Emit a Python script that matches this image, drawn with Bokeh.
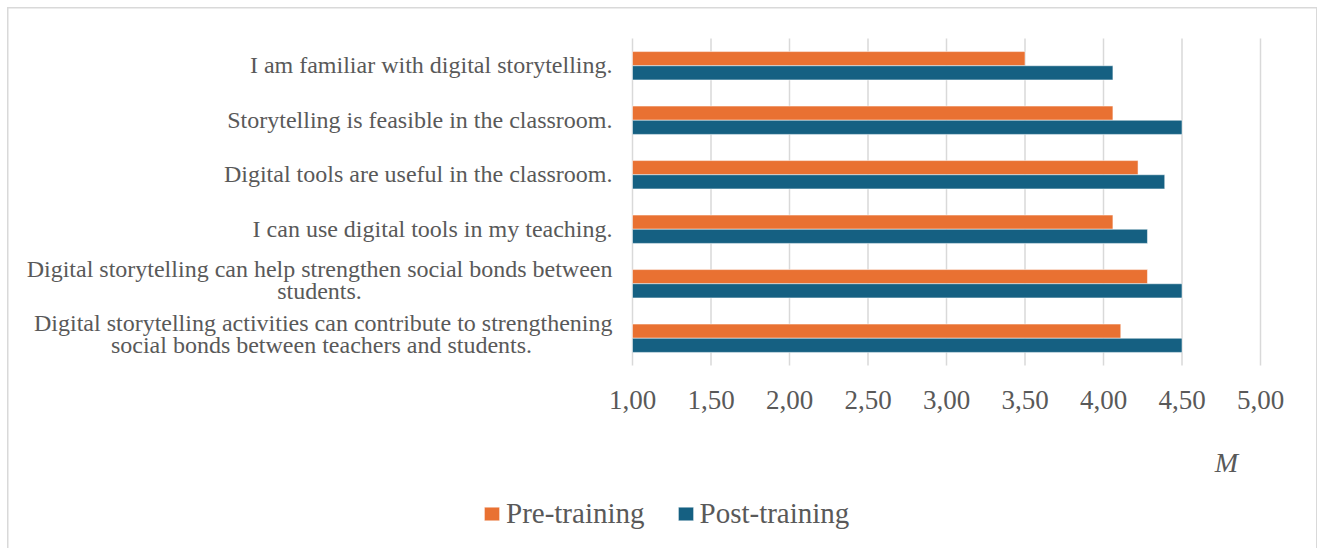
from bokeh.plotting import figure
from bokeh.models import Range1d, Label, LabelSet, Legend, LegendItem, ColumnDataSource
from bokeh.transform import dodge
from bokeh.embed import file_html
from bokeh.resources import INLINE

# ---- data ----
categories = [
    ["I am familiar with digital storytelling."],
    ["Storytelling is feasible in the classroom."],
    ["Digital tools are useful in the classroom."],
    ["I can use digital tools in my teaching."],
    ["Digital storytelling can help strengthen social bonds between", "students."],
    ["Digital storytelling activities can contribute to strengthening",
     "social bonds between teachers and students."],
]
pre_training = [3.50, 4.06, 4.22, 4.06, 4.28, 4.11]
post_training = [4.06, 4.50, 4.39, 4.28, 4.50, 4.50]
series_names = ["Pre-training", "Post-training"]
tick_values = [1.0, 1.5, 2.0, 2.5, 3.0, 3.5, 4.0, 4.5, 5.0]
tick_labels = ["1,00", "1,50", "2,00", "2,50", "3,00", "3,50", "4,00", "4,50", "5,00"]
axis_title = "M"

# ---- style / layout (canvas pixels) ----
ORANGE = "#E97132"
BLUE = "#156082"
TEXT = "#595959"
GRID = "#d9d9d9"
FONT = "Liberation Serif"

W, H = 1308, 542
PL, PR, PT, PB = 624, 1252, 30, 357   # plot-area edges inside the canvas
XMIN, XMAX = tick_values[0], tick_values[-1]
n = len(categories)

ppx = (PR - PL) / (XMAX - XMIN)
ppy = (PB - PT) / n
x_range = Range1d(XMIN - PL / ppx, XMAX + (W - PR) / ppx)
y_range = Range1d(-(H - PB) / ppy, n + PT / ppy)

rows = [n - i - 0.5 for i in range(n)]
src = ColumnDataSource(dict(y=rows, pre=pre_training, post=post_training))

p = figure(width=W, height=H, x_range=x_range, y_range=y_range,
           output_backend="svg", toolbar_location=None,
           x_axis_location=None, y_axis_location=None,
           min_border_left=0, min_border_right=0, min_border_top=0, min_border_bottom=0)
p.background_fill_color = "white"
p.border_fill_color = "white"
p.outline_line_color = None
p.grid.visible = False
p.styles = {"margin-left": "8px", "margin-top": "8px",
            "outline": "2px solid #d9d9d9", "outline-offset": "-1px",
            "clip-path": "inset(-4px -4px 2px -4px)"}

# gridlines (value axis)
p.segment(x0=tick_values, x1=tick_values, y0=[0] * len(tick_values), y1=[n] * len(tick_values),
          line_color=GRID, line_width=1.5)

r_pre = p.hbar(y=dodge("y", 0.13, range=p.y_range), left=XMIN, right="pre", height=0.26,
               source=src, fill_color=ORANGE, line_color="white", line_alpha=0.5, line_width=1)
r_post = p.hbar(y=dodge("y", -0.13, range=p.y_range), left=XMIN, right="post", height=0.26,
                source=src, fill_color=BLUE, line_color="white", line_alpha=0.5, line_width=1)

# tick labels
tick_src = ColumnDataSource(dict(x=tick_values, y=[0] * len(tick_values), text=tick_labels))
p.add_layout(LabelSet(x="x", y="y", text="text", source=tick_src, y_offset=-43.3,
                      text_align="center", text_baseline="alphabetic",
                      text_font=FONT, text_font_size="27px", text_color=TEXT))

# category labels (x offset from axis, align, text-middle offset below row centre)
line_layout = [
    [(-20, "right", -0.5)],
    [(-20, "right", -0.5)],
    [(-20, "right", -0.5)],
    [(-20, "right", -0.5)],
    [(-20, "right", -14.3), (-313, "center", 7.7)],
    [(-20, "right", -15.0), (-311, "center", 7.0)],
]
for lines, layout, yc in zip(categories, line_layout, rows):
    for txt, (xo, align, dy) in zip(lines, layout):
        p.add_layout(Label(x=XMIN, y=yc, x_offset=xo, y_offset=-dy, text=txt,
                           text_align=align, text_baseline="middle",
                           text_font=FONT, text_font_size="24px", text_color=TEXT))

# axis title "M"
p.add_layout(Label(x=XMAX, y=0, x_offset=-34, y_offset=-97, text=axis_title,
                   text_align="center", text_baseline="middle", text_font=FONT,
                   text_font_style="italic", text_font_size="28px", text_color=TEXT))

legend = Legend(items=[LegendItem(label=series_names[0], renderers=[r_pre]),
                       LegendItem(label=series_names[1], renderers=[r_post])],
                location=(474, 20), orientation="horizontal",
                border_line_color=None, background_fill_alpha=0,
                padding=0, margin=0, spacing=31, label_standoff=5,
                glyph_width=19, glyph_height=17,
                label_text_font=FONT, label_text_font_size="29px",
                label_text_color=TEXT)
p.add_layout(legend)

open("out.html", "w").write(file_html(p, INLINE))
